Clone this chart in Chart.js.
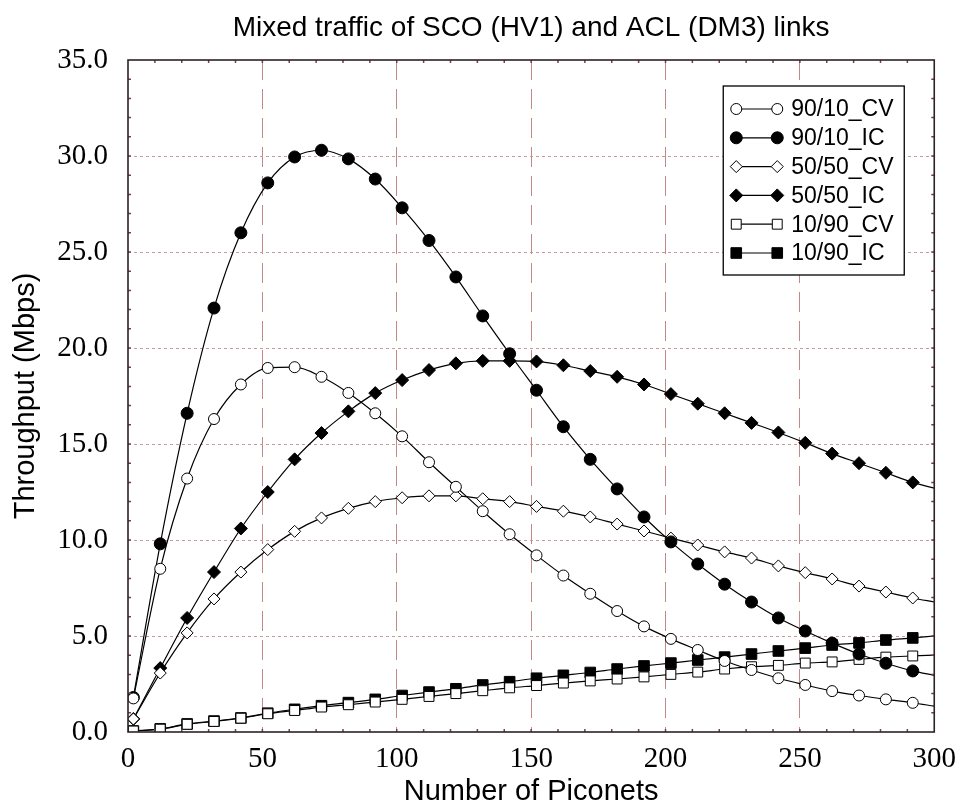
<!DOCTYPE html>
<html>
<head>
<meta charset="utf-8">
<title>Mixed traffic of SCO (HV1) and ACL (DM3) links</title>
<script src="https://cdn.jsdelivr.net/npm/chart.js@4/dist/chart.umd.min.js"></script>
<style>
  html, body { margin: 0; padding: 0; background: #fff; }
  #wrap { width: 966px; height: 809px; }
</style>
</head>
<body>
<div id="wrap"><canvas id="chart" width="966" height="809"></canvas></div>
<script>
// number of piconets (last entry only closes the curve at the right edge, no marker)
const piconets = [2, 12, 22, 32, 42, 52, 62, 72, 82, 92, 102, 112, 122, 132, 142, 152,
                  162, 172, 182, 192, 202, 212, 222, 232, 242, 252, 262, 272, 282, 292, 300];

// throughput in Mbps for each traffic mix
const cv9010 = [1.75, 8.5, 13.2, 16.3, 18.1, 18.96, 19.0, 18.5, 17.66, 16.6, 15.4, 14.05, 12.77, 11.5, 10.3, 9.2,
                8.15, 7.2, 6.3, 5.5, 4.85, 4.27, 3.7, 3.23, 2.8, 2.45, 2.13, 1.9, 1.7, 1.52, 1.35];
const ic9010 = [1.8, 9.8, 16.6, 22.08, 26.0, 28.6, 29.95, 30.3, 29.85, 28.8, 27.3, 25.6, 23.7, 21.67, 19.7, 17.8,
                15.9, 14.2, 12.66, 11.2, 9.9, 8.75, 7.7, 6.77, 5.94, 5.26, 4.63, 4.06, 3.58, 3.18, 2.95];
const cv5050 = [0.68, 3.07, 5.16, 6.93, 8.33, 9.5, 10.45, 11.15, 11.65, 12.0, 12.2, 12.3, 12.3, 12.15, 12.0, 11.75,
                11.5, 11.2, 10.83, 10.47, 10.1, 9.74, 9.38, 9.06, 8.65, 8.3, 7.97, 7.6, 7.29, 6.98, 6.77];
const ic5050 = [0.68, 3.33, 5.94, 8.33, 10.6, 12.5, 14.2, 15.57, 16.7, 17.65, 18.33, 18.85, 19.2, 19.33, 19.33, 19.3,
                19.1, 18.8, 18.5, 18.1, 17.6, 17.1, 16.6, 16.1, 15.6, 15.06, 14.5, 14.0, 13.5, 13.0, 12.7];
const cv1090 = [0.05, 0.15, 0.4, 0.55, 0.72, 0.95, 1.12, 1.3, 1.42, 1.56, 1.7, 1.85, 2.0, 2.15, 2.3, 2.42,
                2.55, 2.66, 2.76, 2.87, 3.0, 3.12, 3.28, 3.4, 3.47, 3.59, 3.65, 3.78, 3.9, 3.96, 4.0];
const ic1090 = [0.05, 0.16, 0.42, 0.57, 0.73, 0.98, 1.18, 1.37, 1.53, 1.7, 1.9, 2.08, 2.25, 2.45, 2.62, 2.8,
                2.95, 3.1, 3.28, 3.44, 3.59, 3.75, 3.9, 4.06, 4.22, 4.37, 4.53, 4.64, 4.79, 4.9, 5.0];

const seriesLabels = ['90/10_CV', '90/10_IC', '50/50_CV', '50/50_IC', '10/90_CV', '10/90_IC'];
const seriesValues = [cv9010, ic9010, cv5050, ic5050, cv1090, ic1090];

const chartTitle = 'Mixed traffic of SCO (HV1) and ACL (DM3) links';
const xTitle = 'Number of Piconets';
const yTitle = 'Throughput (Mbps)';

// marker look per series: shape, radius, filled or hollow
const markers = [
  { style: 'circle',  r: 5.5, fill: '#fff' },
  { style: 'circle',  r: 6,   fill: '#000' },
  { style: 'rectRot', r: 6,   fill: '#fff' },
  { style: 'rectRot', r: 6.5, fill: '#000' },
  { style: 'rect',    r: 7,   fill: '#fff' },
  { style: 'rect',    r: 7.5, fill: '#000' }
];

const SANS = '"Liberation Sans", Arial, Helvetica, sans-serif';
const SERIF = '"Liberation Serif", "Times New Roman", serif';
const lastIdx = piconets.length - 1;

function drawMarker(ctx, m, x, y) {
  ctx.save();
  ctx.beginPath();
  if (m.style === 'circle') {
    ctx.arc(x, y, m.r, 0, Math.PI * 2);
  } else if (m.style === 'rectRot') {
    ctx.moveTo(x - m.r, y);
    ctx.lineTo(x, y - m.r);
    ctx.lineTo(x + m.r, y);
    ctx.lineTo(x, y + m.r);
    ctx.closePath();
  } else {
    const s = m.r * Math.SQRT1_2;
    ctx.rect(x - s, y - s, 2 * s, 2 * s);
  }
  ctx.fillStyle = m.fill;
  ctx.fill();
  ctx.lineWidth = 1;
  ctx.strokeStyle = '#000';
  ctx.stroke();
  ctx.restore();
}

// title centred over the plot area
const titlePlugin = {
  id: 'plotTitle',
  afterDraw(chart) {
    const { ctx, chartArea } = chart;
    ctx.save();
    ctx.font = '28px ' + SANS;
    ctx.fillStyle = '#000';
    ctx.textAlign = 'center';
    ctx.textBaseline = 'alphabetic';
    ctx.fillText(chartTitle, (chartArea.left + chartArea.right) / 2, 36);
    ctx.restore();
  }
};

// box frame plus small inward minor ticks on all four sides
const framePlugin = {
  id: 'frame',
  afterDatasetsDraw(chart) {
    const { ctx, chartArea: a, scales } = chart;
    ctx.save();
    ctx.strokeStyle = '#7a3a5e';
    ctx.lineWidth = 1.5;
    ctx.beginPath();
    for (let v = 10; v < 300; v += 10) {
      const px = scales.x.getPixelForValue(v);
      ctx.moveTo(px, a.bottom); ctx.lineTo(px, a.bottom - 3);
      ctx.moveTo(px, a.top); ctx.lineTo(px, a.top + 3);
    }
    for (let v = 1; v < 35; v++) {
      const py = scales.y.getPixelForValue(v);
      ctx.moveTo(a.left, py); ctx.lineTo(a.left + 3, py);
      ctx.moveTo(a.right, py); ctx.lineTo(a.right - 3, py);
    }
    ctx.stroke();
    ctx.strokeStyle = '#2e2226';
    ctx.lineWidth = 1.6;
    ctx.strokeRect(a.left, a.top, a.right - a.left, a.bottom - a.top);
    ctx.restore();
  }
};

// legend box in the top-right corner: marker - line - marker, then the label
const legendPlugin = {
  id: 'boxLegend',
  afterDraw(chart) {
    const { ctx, chartArea: a } = chart;
    const x0 = a.right - 211, y0 = a.top + 26, w = 181, h = 189;
    ctx.save();
    ctx.fillStyle = '#fff';
    ctx.fillRect(x0, y0, w, h);
    ctx.strokeStyle = '#000';
    ctx.lineWidth = 1.3;
    ctx.strokeRect(x0, y0, w, h);
    ctx.font = '23px ' + SANS;
    ctx.textBaseline = 'middle';
    ctx.textAlign = 'left';
    seriesLabels.forEach((label, i) => {
      const y = y0 + 23 + i * 28.8;
      ctx.strokeStyle = '#000';
      ctx.lineWidth = 1.2;
      ctx.beginPath();
      ctx.moveTo(x0 + 13, y);
      ctx.lineTo(x0 + 54, y);
      ctx.stroke();
      drawMarker(ctx, markers[i], x0 + 13, y);
      drawMarker(ctx, markers[i], x0 + 54, y);
      ctx.fillStyle = '#000';
      ctx.fillText(label, x0 + 68, y + 1);
    });
    ctx.restore();
  }
};

const datasets = seriesLabels.map((label, i) => ({
  label: label,
  data: piconets.map((x, j) => ({ x: x, y: seriesValues[i][j] })),
  borderColor: '#000',
  borderWidth: 1.2,
  backgroundColor: markers[i].fill,
  pointBackgroundColor: markers[i].fill,
  pointBorderColor: '#000',
  pointBorderWidth: 1,
  pointStyle: markers[i].style,
  pointRadius: ctx => ctx.dataIndex === lastIdx ? 0 : markers[i].r,
  cubicInterpolationMode: 'monotone',
  fill: false
}));

new Chart(document.getElementById('chart'), {
  type: 'line',
  data: { datasets: datasets },
  plugins: [titlePlugin, framePlugin, legendPlugin],
  options: {
    responsive: false,
    animation: false,
    devicePixelRatio: 1,
    events: [],
    layout: { padding: { top: 60, right: 25, bottom: 0, left: 0 } },
    plugins: {
      legend: { display: false },
      title: { display: false },
      tooltip: { enabled: false }
    },
    scales: {
      x: {
        type: 'linear',
        min: 0,
        max: 300,
        afterFit(scale) { scale.height = 77; },
        ticks: {
          stepSize: 50,
          padding: 10,
          color: '#000',
          font: { family: SERIF, size: 29 }
        },
        grid: {
          drawTicks: false,
          lineWidth: 1,
          color: ctx => (ctx.tick && (ctx.tick.value === 0 || ctx.tick.value === 300)) ? 'rgba(0,0,0,0)' : '#c28888'
        },
        border: { display: false, dash: [20, 9] },
        title: {
          display: true,
          text: xTitle,
          color: '#000',
          font: { family: SANS, size: 29 },
          padding: { top: 0, bottom: 0 }
        }
      },
      y: {
        min: 0,
        max: 35,
        afterFit(scale) { scale.width = 128; },
        ticks: {
          stepSize: 5,
          padding: 20,
          color: '#000',
          font: { family: SERIF, size: 29 },
          callback: v => v.toFixed(1)
        },
        grid: {
          drawTicks: false,
          lineWidth: 1,
          color: ctx => (ctx.tick && (ctx.tick.value === 0 || ctx.tick.value === 35)) ? 'rgba(0,0,0,0)' : '#c99a9a'
        },
        border: { display: false, dash: [3, 3] },
        title: {
          display: true,
          text: yTitle,
          color: '#000',
          font: { family: SANS, size: 29 },
          padding: { top: 9, bottom: 0 }
        }
      }
    }
  }
});
</script>
</body>
</html>
